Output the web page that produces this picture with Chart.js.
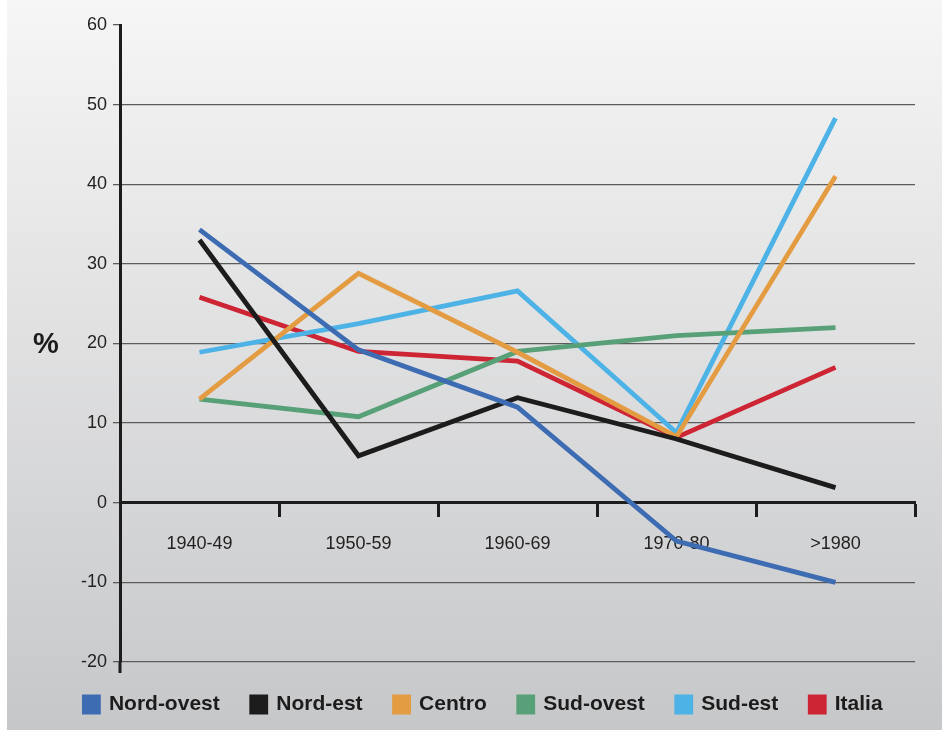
<!DOCTYPE html>
<html>
<head>
<meta charset="utf-8">
<script src="https://cdn.jsdelivr.net/npm/chart.js@4"></script>
<style>
  html, body { margin: 0; padding: 0; background: #fff; }
  #wrap { width: 942px; height: 731px; }
</style>
</head>
<body>
<div id="wrap"><canvas id="chart" width="942" height="731"></canvas></div>
<script>
const periods = ['1940-49', '1950-59', '1960-69', '1970-80', '>1980'];
const nordOvest = [34.3, 19.2, 12.0, -4.8, -10.0];
const nordEst = [33.0, 5.9, 13.2, 8.0, 1.9];
const centro = [13.0, 28.8, 18.9, 8.3, 41.0];
const sudOvest = [13.0, 10.8, 19.0, 21.0, 22.0];
const sudEst = [18.9, 22.5, 26.6, 8.8, 48.3];
const italia = [25.8, 19.0, 17.8, 8.2, 17.0];

const FONT = "'Liberation Sans', Arial, Helvetica, sans-serif";
const AXIS = '#1c1c1c';

const line = (label, data, color) => ({
  label,
  data,
  borderColor: color,
  backgroundColor: color,
  borderWidth: 4.8,
  borderJoinStyle: 'miter',
  borderCapStyle: 'butt',
  pointRadius: 0,
  tension: 0,
  fill: false,
});

// gray panel behind the chart
const panelBg = {
  id: 'panelBg',
  beforeDraw(chart) {
    const { ctx } = chart;
    const grad = ctx.createLinearGradient(0, 0, 0, 731);
    grad.addColorStop(0, '#f6f6f6');
    grad.addColorStop(1, '#c6c7c9');
    ctx.save();
    ctx.fillStyle = grad;
    ctx.fillRect(7, 0, 935, 730);
    ctx.restore();
  },
};

// "%" label and axis line stub below -20
const extras = {
  id: 'extras',
  afterDraw(chart) {
    const { ctx, chartArea } = chart;
    ctx.save();
    ctx.strokeStyle = AXIS;
    ctx.lineWidth = 3;
    ctx.beginPath();
    ctx.moveTo(chartArea.left, chartArea.bottom);
    ctx.lineTo(chartArea.left, chartArea.bottom + 11);
    ctx.stroke();
    ctx.fillStyle = '#1c1c1c';
    ctx.font = `bold 29px ${FONT}`;
    ctx.textAlign = 'center';
    ctx.textBaseline = 'middle';
    ctx.fillText('%', 46, (chartArea.top + chartArea.bottom) / 2 + 1);
    ctx.restore();
  },
};

// keep the legend strip at a fixed height and nudge it right
const legendTweak = {
  id: 'legendTweak',
  beforeInit(chart) {
    const { legend } = chart;
    const origFit = legend.fit;
    const origDraw = legend.draw;
    legend.fit = function fit() {
      origFit.call(this);
      this.height = 69;
    };
    legend.draw = function draw() {
      this.ctx.save();
      this.ctx.translate(26, 0);
      origDraw.call(this);
      this.ctx.restore();
    };
  },
};

new Chart(document.getElementById('chart'), {
  type: 'line',
  data: {
    labels: periods,
    datasets: [
      line('Nord-ovest', nordOvest, '#3e6cb3'),
      line('Nord-est', nordEst, '#1c1c1c'),
      line('Centro', centro, '#e49c42'),
      line('Sud-ovest', sudOvest, '#58a077'),
      line('Sud-est', sudEst, '#4db3e6'),
      line('Italia', italia, '#cd2534'),
    ],
  },
  plugins: [panelBg, extras, legendTweak],
  options: {
    responsive: false,
    animation: false,
    layout: { padding: { left: 0, right: 27, top: 25, bottom: 0 } },
    plugins: {
      tooltip: { enabled: false },
      legend: {
        position: 'bottom',
        labels: {
          boxWidth: 14,
          boxHeight: 15,
          padding: 32,
          color: '#1c1c1c',
          font: { family: FONT, size: 21, weight: 'bold' },
        },
      },
    },
    scales: {
      x: {
        position: { y: 0 },
        offset: true,
        grid: {
          offset: true,
          drawOnChartArea: false,
          tickLength: 13,
          tickWidth: 3,
          tickColor: AXIS,
        },
        border: { display: true, width: 3, color: AXIS },
        ticks: {
          color: '#222',
          padding: 17,
          maxRotation: 0,
          font: { family: FONT, size: 18 },
        },
      },
      y: {
        min: -20,
        max: 60,
        afterFit(scale) { scale.width = 120; },
        grid: {
          color: (c) => (c.tick.value === 60 || c.tick.value === 0 ? 'rgba(0,0,0,0)' : '#5c5c5c'),
          lineWidth: 1.3,
          tickLength: 7,
          tickColor: '#5c5c5c',
        },
        border: { display: true, width: 3, color: AXIS },
        ticks: {
          stepSize: 10,
          color: '#222',
          padding: 6,
          font: { family: FONT, size: 18 },
        },
      },
    },
  },
});
</script>
</body>
</html>
